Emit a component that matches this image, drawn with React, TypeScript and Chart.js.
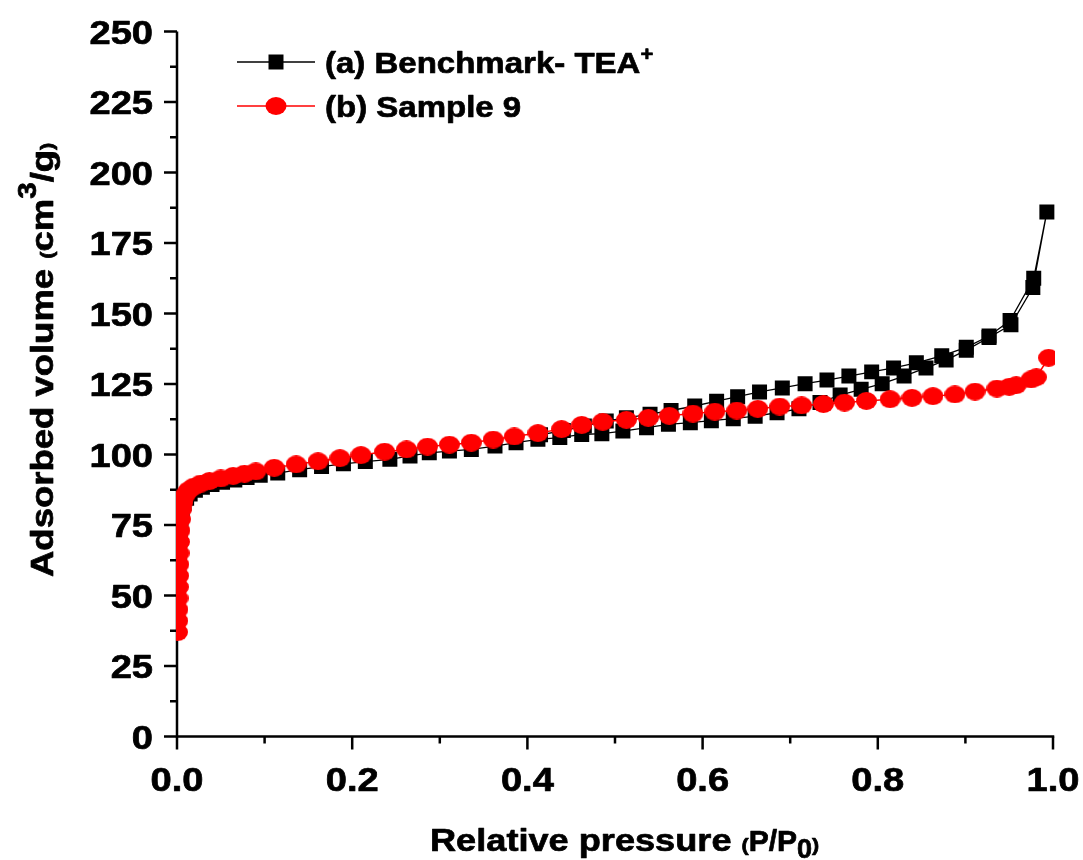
import React, { useEffect, useRef } from "react";
import { Chart, registerables } from "chart.js";

Chart.register(...registerables);

// Axis ticks
const xMajorTicks = [0, 0.2, 0.4, 0.6, 0.8, 1.0];
const xTickLabels = ["0.0", "0.2", "0.4", "0.6", "0.8", "1.0"];
const xMinorTicks = [0.1, 0.3, 0.5, 0.7, 0.9];
const yMajorTicks = [0, 25, 50, 75, 100, 125, 150, 175, 200, 225, 250];
const yTickLabels = ["0", "25", "50", "75", "100", "125", "150", "175", "200", "225", "250"];
const yMinorTicks = [12.5, 37.5, 62.5, 87.5, 112.5, 137.5, 162.5, 187.5, 212.5, 237.5];

// (a) Benchmark- TEA+ : adsorption branch (P/P0, cm3/g)
const benchAdsP = [
  0.0004, 0.0008, 0.0012, 0.0016, 0.002, 0.0025, 0.003, 0.0036, 0.0045, 0.006,
  0.008, 0.011, 0.015, 0.021, 0.029, 0.04, 0.052, 0.066, 0.08, 0.095,
  0.115, 0.14, 0.165, 0.19, 0.215, 0.243, 0.266, 0.288, 0.311, 0.336,
  0.363, 0.387, 0.412, 0.437, 0.462, 0.485, 0.509, 0.536, 0.561, 0.586,
  0.61, 0.635, 0.66, 0.685, 0.71, 0.734, 0.757, 0.781, 0.805, 0.83,
  0.855, 0.878, 0.901, 0.927, 0.952, 0.977, 0.993,
];
const benchAdsV = [
  40, 45, 50, 55, 60, 64, 68, 72, 76, 79.5,
  82.5, 84.5, 86, 87.3, 88.4, 89.4, 90.2, 91, 91.8, 92.6,
  93.4, 94.6, 95.7, 96.7, 97.5, 98.3, 99.5, 100.6, 101.2, 101.8,
  103, 104.2, 105.4, 106, 107.1, 107.4, 108.3, 109.5, 110.7, 111.3,
  112, 112.7, 113.6, 114.8, 116.2, 118.4, 121.1, 123.1, 125.1, 127.8,
  130.7, 133.5, 137, 141.5, 146, 159.2, 186,
];

// (a) Benchmark- TEA+ : desorption branch
const benchDesP = [
  0.978, 0.951, 0.927, 0.901, 0.873, 0.844, 0.818, 0.793, 0.767, 0.742,
  0.717, 0.691, 0.665, 0.64, 0.616, 0.591, 0.564, 0.54, 0.513, 0.49,
  0.465, 0.441, 0.415,
];
const benchDesV = [
  162.5, 147.5, 142, 138, 135, 132.5, 130.7, 129.3, 127.8, 126.4,
  125.1, 123.6, 122.2, 120.5, 118.9, 117.2, 115.6, 114.3, 113, 111.9,
  110.1, 108.5, 107,
];

// (b) Sample 9
const sampleP = [
  0.0005, 0.0008, 0.001, 0.0012, 0.0015, 0.0018, 0.002, 0.0024, 0.0028, 0.0033,
  0.004, 0.005, 0.0065, 0.009, 0.013, 0.019, 0.027, 0.037, 0.05, 0.064,
  0.077, 0.09, 0.111, 0.136, 0.161, 0.186, 0.21, 0.237, 0.262, 0.286,
  0.311, 0.336, 0.361, 0.385, 0.412, 0.439, 0.462, 0.486, 0.513, 0.538,
  0.562, 0.589, 0.614, 0.639, 0.663, 0.688, 0.713, 0.738, 0.762, 0.787,
  0.814, 0.839, 0.863, 0.888, 0.911, 0.936, 0.95, 0.958, 0.975, 0.981,
  0.995,
];
const sampleV = [
  37, 41, 45, 49, 53, 57, 61, 65, 69, 73,
  77, 80.5, 83, 85.5, 87.3, 88.6, 89.7, 90.6, 91.5, 92.4,
  93.2, 94, 95.3, 96.5, 97.6, 98.7, 99.8, 101, 101.8, 102.8,
  103.5, 104.2, 105.3, 106.4, 107.6, 109, 110.5, 111.6, 112.3, 113,
  113.7, 114.5, 115.2, 115.6, 116.2, 117, 117.4, 117.9, 118.4, 119,
  119.6, 120.1, 120.7, 121.3, 122.3, 123.4, 124, 124.6, 126.6, 127.4,
  134.3,
];

const FONT = '"Liberation Sans", Arial, Helvetica, sans-serif';
const RED = "#ff0000";

type Run = { text: string; size: number; dy?: number; sx?: number };

// draws a row of text pieces with horizontal stretch and a thin outline for extra weight
function drawRuns(ctx: CanvasRenderingContext2D, runs: Run[], x: number, y: number, sx: number) {
  let cx = x;
  for (const r of runs) {
    const k = r.sx ?? sx;
    ctx.font = `bold ${r.size}px ${FONT}`;
    ctx.save();
    ctx.translate(cx, y + (r.dy || 0));
    ctx.scale(k, 1);
    ctx.textAlign = "left";
    ctx.textBaseline = "alphabetic";
    ctx.fillStyle = "#000";
    ctx.strokeStyle = "#000";
    ctx.lineWidth = 0.7;
    ctx.lineJoin = "round";
    ctx.fillText(r.text, 0, 0);
    ctx.strokeText(r.text, 0, 0);
    ctx.restore();
    cx += ctx.measureText(r.text).width * k;
  }
}

function textWidth(ctx: CanvasRenderingContext2D, text: string, size: number, sx: number) {
  ctx.font = `bold ${size}px ${FONT}`;
  return ctx.measureText(text).width * sx;
}

// slightly wide round marker for Sample 9
function makeDot(w: number, h: number, color: string) {
  const c = document.createElement("canvas");
  c.width = w;
  c.height = h;
  const g = c.getContext("2d")!;
  g.fillStyle = color;
  g.beginPath();
  g.ellipse(w / 2, h / 2, w / 2, h / 2, 0, 0, Math.PI * 2);
  g.fill();
  return c;
}

const axesPlugin = {
  id: "isothermAxes",
  beforeDatasetsDraw(chart: any) {
    const ctx: CanvasRenderingContext2D = chart.ctx;
    const xs = chart.scales.x;
    const ys = chart.scales.y;
    const left = xs.getPixelForValue(0);
    const right = xs.getPixelForValue(1);
    const bottom = ys.getPixelForValue(0);
    const top = ys.getPixelForValue(250);
    const major = 13;
    const minor = 7;

    ctx.save();
    ctx.strokeStyle = "#000";
    ctx.fillStyle = "#000";
    ctx.lineWidth = 2.5;
    ctx.lineCap = "butt";

    // axis lines
    ctx.beginPath();
    ctx.moveTo(left, top);
    ctx.lineTo(left, bottom + 1.25);
    ctx.moveTo(left - 1.25, bottom);
    ctx.lineTo(right + 1.25, bottom);
    ctx.stroke();

    // ticks
    ctx.beginPath();
    xMajorTicks.forEach((v) => {
      const px = xs.getPixelForValue(v);
      ctx.moveTo(px, bottom);
      ctx.lineTo(px, bottom + major);
    });
    xMinorTicks.forEach((v) => {
      const px = xs.getPixelForValue(v);
      ctx.moveTo(px, bottom);
      ctx.lineTo(px, bottom + minor);
    });
    yMajorTicks.forEach((v) => {
      const py = ys.getPixelForValue(v);
      ctx.moveTo(left, py);
      ctx.lineTo(left - major, py);
    });
    yMinorTicks.forEach((v) => {
      const py = ys.getPixelForValue(v);
      ctx.moveTo(left, py);
      ctx.lineTo(left - minor, py);
    });
    ctx.stroke();

    // tick labels
    const tickSize = 34;
    const tickSx = 1.12;
    xMajorTicks.forEach((v, i) => {
      const px = xs.getPixelForValue(v);
      const w = textWidth(ctx, xTickLabels[i], tickSize, tickSx);
      drawRuns(ctx, [{ text: xTickLabels[i], size: tickSize }], px - w / 2, bottom + 54, tickSx);
    });
    yMajorTicks.forEach((v, i) => {
      const py = ys.getPixelForValue(v);
      const w = textWidth(ctx, yTickLabels[i], tickSize, tickSx);
      drawRuns(ctx, [{ text: yTickLabels[i], size: tickSize }], left - 24 - w, py + 12.2, tickSx);
    });

    // x title
    drawRuns(
      ctx,
      [
        { text: "Relative pressure ", size: 32 },
        { text: "(", size: 19 },
        { text: "P/P", size: 30, sx: 1.0 },
        { text: "0", size: 27, dy: 7, sx: 1.0 },
        { text: ")", size: 19 },
      ],
      430,
      851,
      1.13
    );

    // y title
    ctx.save();
    ctx.translate(53, 577);
    ctx.rotate(-Math.PI / 2);
    drawRuns(
      ctx,
      [
        { text: "Adsorbed volume ", size: 32 },
        { text: "(", size: 19 },
        { text: "cm", size: 32 },
        { text: "3", size: 26, dy: -17 },
        { text: "/g", size: 32 },
        { text: ")", size: 19 },
      ],
      0,
      0,
      1.14
    );
    ctx.restore();
    ctx.restore();
  },
};

const legendPlugin = {
  id: "isothermLegend",
  afterDraw(chart: any) {
    const ctx: CanvasRenderingContext2D = chart.ctx;
    const rows = [
      {
        y: 62,
        color: "#000000",
        shape: "rect",
        runs: [
          { text: "(a) Benchmark- TEA", size: 30 },
          { text: "+", size: 20, dy: -12 },
        ] as Run[],
      },
      {
        y: 106,
        color: RED,
        shape: "circle",
        runs: [{ text: "(b) Sample 9", size: 30 }] as Run[],
      },
    ];
    ctx.save();
    rows.forEach((r) => {
      ctx.strokeStyle = r.color;
      ctx.fillStyle = r.color;
      ctx.lineWidth = 1.5;
      ctx.beginPath();
      ctx.moveTo(237, r.y);
      ctx.lineTo(315, r.y);
      ctx.stroke();
      ctx.beginPath();
      if (r.shape === "rect") {
        ctx.rect(276 - 7.5, r.y - 7.5, 15, 15);
      } else {
        ctx.ellipse(276, r.y, 10.5, 9, 0, 0, Math.PI * 2);
      }
      ctx.fill();
      drawRuns(ctx, r.runs, 325, r.y + 11, 1.1);
    });
    ctx.restore();
  },
};

export default function App() {
  const canvasRef = useRef<HTMLCanvasElement | null>(null);

  useEffect(() => {
    const canvas = canvasRef.current;
    if (!canvas) return;

    const benchPts = [
      ...benchAdsP.map((p, i) => ({ x: p, y: benchAdsV[i] })),
      ...benchDesP.map((p, i) => ({ x: p, y: benchDesV[i] })),
    ];
    const samplePts = sampleP.map((p, i) => ({ x: p, y: sampleV[i] }));
    const dot = makeDot(21, 18, RED);

    const chart = new Chart(canvas, {
      type: "scatter",
      data: {
        datasets: [
          {
            label: "(b) Sample 9",
            data: samplePts,
            showLine: true,
            borderColor: RED,
            borderWidth: 1.5,
            pointStyle: dot,
            pointRadius: 10,
            pointBackgroundColor: RED,
            pointBorderColor: RED,
            pointBorderWidth: 0,
            clip: { left: 1, right: 2, top: 10, bottom: 0 },
          } as any,
          {
            label: "(a) Benchmark- TEA+",
            data: benchPts,
            showLine: true,
            borderColor: "#000000",
            borderWidth: 1.3,
            pointStyle: "rect",
            pointRadius: 10.6,
            pointBackgroundColor: "#000000",
            pointBorderColor: "#000000",
            pointBorderWidth: 0,
            clip: { left: 1, right: 2, top: 10, bottom: 0 },
          } as any,
        ],
      },
      options: {
        animation: false,
        responsive: false,
        devicePixelRatio: 1,
        events: [],
        layout: { padding: { left: 177, right: 30, top: 31.5, bottom: 123.5 } },
        scales: {
          x: { type: "linear", min: 0, max: 1, display: false },
          y: { type: "linear", min: 0, max: 250, display: false },
        },
        plugins: {
          legend: { display: false },
          tooltip: { enabled: false },
        },
      },
      plugins: [axesPlugin, legendPlugin],
    });

    return () => chart.destroy();
  }, []);

  return (
    <div style={{ position: "absolute", left: 0, top: 0, width: 1083, height: 860, background: "#fff" }}>
      <canvas ref={canvasRef} width={1083} height={860} style={{ width: 1083, height: 860, display: "block" }} />
    </div>
  );
}
